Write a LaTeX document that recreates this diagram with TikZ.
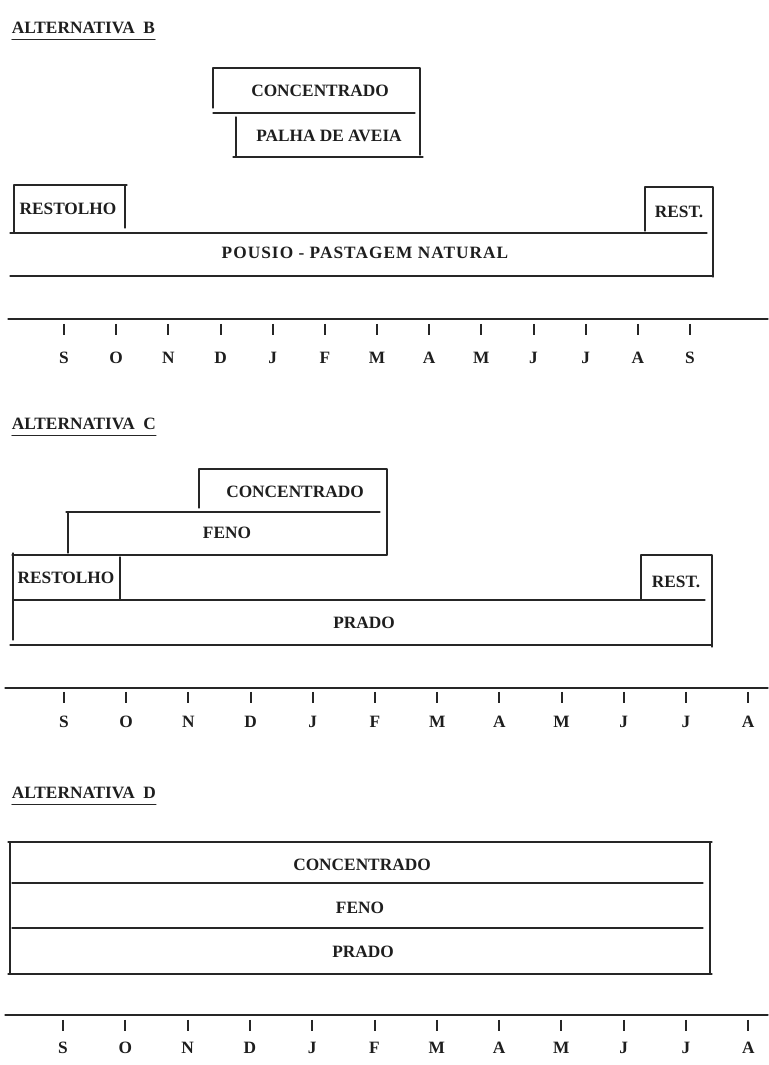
\documentclass[tikz,border=0pt]{standalone}
\usepackage{fontspec}
\setmainfont{Liberation Serif}
\definecolor{drawColor}{RGB}{38,38,38}
\definecolor{textColor}{RGB}{30,30,30}
\begin{document}
\begin{tikzpicture}[x=1pt,y=1pt,
  lbl/.style={text=textColor,anchor=base,inner sep=0pt,outer sep=0pt,font=\bfseries\fontsize{17.3}{20}\selectfont},
  boxline/.style={draw=drawColor,line width=1.3pt,line join=round,line cap=round},
  tickmark/.style={draw=drawColor,line width=2pt}]
\path[use as bounding box,fill=white] (0,0) rectangle (768,1065);

% ---- alternativa B
\node[lbl,anchor=base west] (tB) at (12,1031.5) {ALTERNATIVA\ \ B};
\path[boxline] ([yshift=-6pt]tB.base west) -- ([yshift=-6pt]tB.base east);

\path[boxline] (213,957) -- (213,997) -- (420,997) -- (420,910);
\path[boxline] (213,952) -- (415,952);
\path[boxline] (236,948) -- (236,908);
\path[boxline] (233,908) -- (423,908);
\node[lbl] (concB) at (320,968.5) {CONCENTRADO};
\node[lbl] (palhaB) at (329,923.5) {PALHA DE AVEIA};

\path[boxline] (14,832) -- (14,880) -- (127,880);
\path[boxline] (125,880) -- (125,837);
\path[boxline] (10,832) -- (707,832);
\path[boxline] (645,834) -- (645,878) -- (713,878) -- (713,788);
\path[boxline] (10,789) -- (713,789);
\node[lbl] (restolB) at (68,850.5) {RESTOLHO};
\node[lbl] (restB) at (679,847.5) {REST.};
\node[lbl] (pousioB) at (365,806.5) {\addfontfeature{LetterSpace=6}POUSIO\ -\ PASTAGEM NATURAL};

\path[boxline] (8,746) -- (768,746);
\path[tickmark] (64,741) -- (64,730) (116.2,741) -- (116.2,730) (168.3,741) -- (168.3,730)
  (220.5,741) -- (220.5,730) (272.7,741) -- (272.7,730) (324.9,741) -- (324.9,730)
  (377,741) -- (377,730) (429.2,741) -- (429.2,730) (481.4,741) -- (481.4,730)
  (533.5,741) -- (533.5,730) (585.7,741) -- (585.7,730) (637.9,741) -- (637.9,730)
  (690,741) -- (690,730);
\node[lbl] (mB1) at (64,701.5) {S};
\node[lbl] (mB2) at (116.2,701.5) {O};
\node[lbl] (mB3) at (168.3,701.5) {N};
\node[lbl] (mB4) at (220.5,701.5) {D};
\node[lbl] (mB5) at (272.7,701.5) {J};
\node[lbl] (mB6) at (324.9,701.5) {F};
\node[lbl] (mB7) at (377,701.5) {M};
\node[lbl] (mB8) at (429.2,701.5) {A};
\node[lbl] (mB9) at (481.4,701.5) {M};
\node[lbl] (mB10) at (533.5,701.5) {J};
\node[lbl] (mB11) at (585.7,701.5) {J};
\node[lbl] (mB12) at (637.9,701.5) {A};
\node[lbl] (mB13) at (690,701.5) {S};

% ---- alternativa C
\node[lbl,anchor=base west] (tC) at (12,635.5) {ALTERNATIVA\ \ C};
\path[boxline] ([yshift=-6pt]tC.base west) -- ([yshift=-6pt]tC.base east);

\path[boxline] (199,557) -- (199,596) -- (387,596) -- (387,510);
\path[boxline] (66,553) -- (380,553);
\path[boxline] (68,553) -- (68,512);
\path[boxline] (12,510) -- (387,510);
\node[lbl] (concC) at (295,567.5) {CONCENTRADO};
\node[lbl] (fenoC) at (227,526.5) {FENO};

\path[boxline] (13,512) -- (13,425);
\path[boxline] (120,508) -- (120,465);
\path[boxline] (13,465) -- (705,465);
\path[boxline] (641,465) -- (641,510) -- (712,510) -- (712,418);
\path[boxline] (10,420) -- (712,420);
\node[lbl] (restolC) at (66,481.5) {RESTOLHO};
\node[lbl] (restC) at (676,477.5) {REST.};
\node[lbl] (pradoC) at (364,436.5) {PRADO};

\path[boxline] (5,377) -- (768,377);
\path[tickmark] (64,373) -- (64,362) (126.2,373) -- (126.2,362) (188.4,373) -- (188.4,362)
  (250.6,373) -- (250.6,362) (312.8,373) -- (312.8,362) (375,373) -- (375,362)
  (437.2,373) -- (437.2,362) (499.4,373) -- (499.4,362) (561.6,373) -- (561.6,362)
  (623.8,373) -- (623.8,362) (686,373) -- (686,362) (748.2,373) -- (748.2,362);
\node[lbl] (mC1) at (64,337.5) {S};
\node[lbl] (mC2) at (126.2,337.5) {O};
\node[lbl] (mC3) at (188.4,337.5) {N};
\node[lbl] (mC4) at (250.6,337.5) {D};
\node[lbl] (mC5) at (312.8,337.5) {J};
\node[lbl] (mC6) at (375,337.5) {F};
\node[lbl] (mC7) at (437.2,337.5) {M};
\node[lbl] (mC8) at (499.4,337.5) {A};
\node[lbl] (mC9) at (561.6,337.5) {M};
\node[lbl] (mC10) at (623.8,337.5) {J};
\node[lbl] (mC11) at (686,337.5) {J};
\node[lbl] (mC12) at (748.2,337.5) {A};

% ---- alternativa D
\node[lbl,anchor=base west] (tD) at (12,266.5) {ALTERNATIVA\ \ D};
\path[boxline] ([yshift=-6pt]tD.base west) -- ([yshift=-6pt]tD.base east);

\path[boxline] (8,223) -- (712,223);
\path[boxline] (10,223) -- (10,91);
\path[boxline] (710,223) -- (710,91);
\path[boxline] (12,182) -- (703,182);
\path[boxline] (12,137) -- (703,137);
\path[boxline] (8,91) -- (712,91);
\node[lbl] (concD) at (362,194.5) {CONCENTRADO};
\node[lbl] (fenoD) at (360,151.5) {FENO};
\node[lbl] (pradoD) at (363,107.5) {PRADO};

\path[boxline] (5,50) -- (768,50);
\path[tickmark] (63,45) -- (63,34) (125.3,45) -- (125.3,34) (187.6,45) -- (187.6,34)
  (249.9,45) -- (249.9,34) (312.2,45) -- (312.2,34) (374.5,45) -- (374.5,34)
  (436.8,45) -- (436.8,34) (499.1,45) -- (499.1,34) (561.4,45) -- (561.4,34)
  (623.7,45) -- (623.7,34) (686,45) -- (686,34) (748.3,45) -- (748.3,34);
\node[lbl] (mD1) at (63,11.5) {S};
\node[lbl] (mD2) at (125.3,11.5) {O};
\node[lbl] (mD3) at (187.6,11.5) {N};
\node[lbl] (mD4) at (249.9,11.5) {D};
\node[lbl] (mD5) at (312.2,11.5) {J};
\node[lbl] (mD6) at (374.5,11.5) {F};
\node[lbl] (mD7) at (436.8,11.5) {M};
\node[lbl] (mD8) at (499.1,11.5) {A};
\node[lbl] (mD9) at (561.4,11.5) {M};
\node[lbl] (mD10) at (623.7,11.5) {J};
\node[lbl] (mD11) at (686,11.5) {J};
\node[lbl] (mD12) at (748.3,11.5) {A};
\end{tikzpicture}
\end{document}
